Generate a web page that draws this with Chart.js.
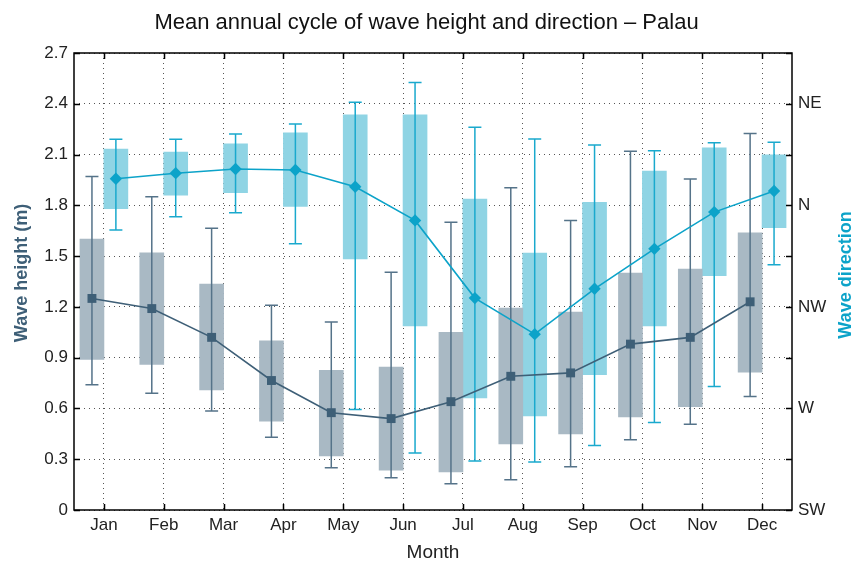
<!DOCTYPE html>
<html><head><meta charset="utf-8">
<script src="https://cdn.jsdelivr.net/npm/chart.js@4.4.1/dist/chart.umd.min.js"></script>
<style>html,body{margin:0;padding:0;background:#fff}</style>
</head><body>
<canvas id="c" width="853" height="565"></canvas>
<script>
// ---- data ----
const MONTHS = ['Jan','Feb','Mar','Apr','May','Jun','Jul','Aug','Sep','Oct','Nov','Dec'];

// Wave height (m)
const HEIGHT_WHISKER_LOW  = [0.74, 0.69, 0.585, 0.43, 0.25, 0.19, 0.155, 0.178, 0.255, 0.415, 0.507, 0.67];
const HEIGHT_BOX_LOW      = [0.89, 0.86, 0.71, 0.525, 0.32, 0.235, 0.225, 0.39, 0.45, 0.55, 0.61, 0.815];
const HEIGHT_MEAN         = [1.25, 1.19, 1.02, 0.765, 0.575, 0.54, 0.64, 0.79, 0.81, 0.98, 1.02, 1.23];
const HEIGHT_BOX_HIGH     = [1.60, 1.52, 1.335, 1.00, 0.825, 0.845, 1.05, 1.193, 1.17, 1.40, 1.423, 1.638];
const HEIGHT_WHISKER_HIGH = [1.97, 1.85, 1.665, 1.21, 1.11, 1.405, 1.70, 1.904, 1.71, 2.12, 1.955, 2.224];

// Wave direction (on the right-hand compass scale)
const DIR_WHISKER_LOW  = [1.655, 1.733, 1.756, 1.573, 0.594, 0.337, 0.29, 0.284, 0.381, 0.517, 0.73, 1.449];
const DIR_BOX_LOW      = [1.78, 1.86, 1.875, 1.794, 1.483, 1.088, 0.662, 0.556, 0.80, 1.088, 1.384, 1.668];
const DIR_MEAN         = [1.957, 1.99, 2.015, 2.009, 1.91, 1.711, 1.252, 1.039, 1.307, 1.543, 1.76, 1.885];
const DIR_BOX_HIGH     = [2.133, 2.115, 2.163, 2.228, 2.334, 2.334, 1.837, 1.518, 1.818, 2.003, 2.139, 2.098];
const DIR_WHISKER_HIGH = [2.19, 2.19, 2.222, 2.281, 2.409, 2.525, 2.261, 2.192, 2.157, 2.123, 2.17, 2.173];

// Tick labels
const HEIGHT_TICK_MIN = 0, HEIGHT_TICK_MAX = 2.7, HEIGHT_TICK_STEP = 0.3;
const DIR_TICK_VALUES = [0, 0.6, 1.2, 1.8, 2.4];
const DIR_TICK_LABELS = ['SW', 'W', 'NW', 'N', 'NE'];

// ---- styles ----
const FONT = "'Liberation Sans', Arial, Helvetica, sans-serif";
const GREY_BOX = '#a9b9c4', GREY_LINE = '#3e5f77', GREY_WHISKER = '#557389';
const CYAN_BOX = '#8fd4e4', CYAN_LINE = '#0ca3c9', CYAN_WHISKER = '#1aa9cd';
const BOX_PX = 24;                   // width of each box in pixels
const SHIFT = 0.2;                   // centre of each box relative to the month (in months)
const CAP = 6.5;

const whiskerPlugin = {
  id: 'whiskers',
  afterDatasetDraw(chart, args) {
    const ds = chart.data.datasets[args.index];
    if (!ds.whiskerLow) return;
    const ys = chart.scales[ds.yAxisID];
    const ctx = chart.ctx;
    ctx.save();
    ctx.strokeStyle = ds.whiskerColor;
    ctx.lineWidth = 1.5;
    args.meta.data.forEach((bar, i) => {
      const x = bar.x;
      const yl = ys.getPixelForValue(ds.whiskerLow[i]);
      const yh = ys.getPixelForValue(ds.whiskerHigh[i]);
      ctx.beginPath();
      ctx.moveTo(x, yl); ctx.lineTo(x, yh);
      ctx.moveTo(x - CAP, yh); ctx.lineTo(x + CAP, yh);
      ctx.moveTo(x - CAP, yl); ctx.lineTo(x + CAP, yl);
      ctx.stroke();
    });
    ctx.restore();
  }
};

const framePlugin = {
  id: 'frame',
  afterDraw(chart) {
    const ctx = chart.ctx;
    const {left, right, top, bottom} = chart.chartArea;
    const TL = 6;
    ctx.save();
    ctx.strokeStyle = '#000';
    ctx.lineWidth = 1.5;
    ctx.strokeRect(left, top, right - left, bottom - top);
    ctx.beginPath();
    const sx = chart.scales.x;
    sx.ticks.forEach((t, i) => {
      const px = Math.round(sx.getPixelForTick(i)) + 0.5;
      ctx.moveTo(px, bottom); ctx.lineTo(px, bottom - TL);
      ctx.moveTo(px, top); ctx.lineTo(px, top + TL);
    });
    const sy = chart.scales.y;
    sy.ticks.forEach((t, i) => {
      const py = Math.round(sy.getPixelForTick(i)) + 0.5;
      ctx.moveTo(left, py); ctx.lineTo(left + TL, py);
    });
    const sy2 = chart.scales.y2;
    sy2.ticks.forEach((t, i) => {
      const py = Math.round(sy2.getPixelForTick(i)) + 0.5;
      ctx.moveTo(right, py); ctx.lineTo(right - TL, py);
    });
    ctx.stroke();

    // vertical axis titles (both read bottom-to-top)
    ctx.font = "bold 18px " + FONT;
    ctx.textAlign = 'center';
    ctx.textBaseline = 'middle';
    ctx.fillStyle = GREY_LINE;
    ctx.translate(22, 273);
    ctx.rotate(-Math.PI / 2);
    ctx.fillText('Wave height (m)', 0, 0);
    ctx.setTransform(1, 0, 0, 1, 0, 0);
    ctx.fillStyle = CYAN_LINE;
    ctx.translate(846, 275);
    ctx.rotate(-Math.PI / 2);
    ctx.fillText('Wave direction', 0, 0);
    ctx.restore();
  }
};

const gridStyle = { color: '#555', lineWidth: 1, drawTicks: false };

new Chart(document.getElementById('c'), {
  data: {
    labels: MONTHS,
    datasets: [
      {
        type: 'bar', label: 'Wave height', xAxisID: 'xl', yAxisID: 'y', order: 3,
        data: HEIGHT_BOX_LOW.map((v, i) => ({x: i - SHIFT, y: [v, HEIGHT_BOX_HIGH[i]]})),
        backgroundColor: GREY_BOX, borderWidth: 0, grouped: false,
        whiskerLow: HEIGHT_WHISKER_LOW, whiskerHigh: HEIGHT_WHISKER_HIGH, whiskerColor: GREY_WHISKER,
        barThickness: BOX_PX
      },
      {
        type: 'bar', label: 'Wave direction', xAxisID: 'xl', yAxisID: 'y2', order: 3,
        data: DIR_BOX_LOW.map((v, i) => ({x: i + SHIFT, y: [v, DIR_BOX_HIGH[i]]})),
        backgroundColor: CYAN_BOX, borderWidth: 0, grouped: false,
        whiskerLow: DIR_WHISKER_LOW, whiskerHigh: DIR_WHISKER_HIGH, whiskerColor: CYAN_WHISKER,
        barThickness: BOX_PX
      },
      {
        type: 'line', label: 'Wave height mean', xAxisID: 'xl', yAxisID: 'y', order: 1,
        data: HEIGHT_MEAN.map((v, i) => ({x: i - SHIFT, y: v})),
        borderColor: GREY_LINE, backgroundColor: GREY_LINE, borderWidth: 1.6,
        pointStyle: 'rect', pointRadius: 6.3, pointBorderWidth: 0, tension: 0
      },
      {
        type: 'line', label: 'Wave direction mean', xAxisID: 'xl', yAxisID: 'y2', order: 1,
        data: DIR_MEAN.map((v, i) => ({x: i + SHIFT, y: v})),
        borderColor: CYAN_LINE, backgroundColor: CYAN_LINE, borderWidth: 1.6,
        pointStyle: 'rectRot', pointRadius: 6.2, pointBorderWidth: 0, tension: 0
      }
    ]
  },
  options: {
    responsive: false,
    animation: false,
    layout: { padding: 0 },
    plugins: {
      legend: { display: false },
      tooltip: { enabled: false },
      title: {
        display: true,
        text: 'Mean annual cycle of wave height and direction – Palau',
        color: '#111',
        font: { family: FONT, size: 22, weight: 'normal', lineHeight: 1.2 },
        padding: { top: 10, bottom: 16.6 }
      }
    },
    scales: {
      x: {
        type: 'category', position: 'bottom', offset: true,
        grid: Object.assign({ offset: false }, gridStyle),
        border: { display: false, dash: [1, 4] },
        ticks: { color: '#222', font: { family: FONT, size: 17 }, padding: 5, maxRotation: 0 },
        title: { display: true, text: 'Month', color: '#222', font: { family: FONT, size: 19 }, padding: { top: 0, bottom: 1 } },
        afterFit: s => { s.height = 55; }
      },
      xl: {
        type: 'linear', display: false, min: -0.5, max: 11.5, offset: false
      },
      y: {
        type: 'linear', position: 'left', min: HEIGHT_TICK_MIN, max: HEIGHT_TICK_MAX,
        grid: gridStyle,
        border: { display: false, dash: [1, 4] },
        ticks: {
          stepSize: HEIGHT_TICK_STEP, color: '#222', font: { family: FONT, size: 17 }, padding: 6,
          callback: v => (Math.abs(v) < 1e-9 ? '0' : v.toFixed(1))
        },
        afterFit: s => { s.width = 74; }
      },
      y2: {
        type: 'linear', position: 'right', min: HEIGHT_TICK_MIN, max: HEIGHT_TICK_MAX,
        grid: { display: false, drawTicks: false },
        border: { display: false },
        ticks: {
          stepSize: HEIGHT_TICK_STEP, color: '#222', font: { family: FONT, size: 17 }, padding: 6,
          callback: v => {
            const k = DIR_TICK_VALUES.findIndex(d => Math.abs(d - v) < 1e-6);
            return k >= 0 ? DIR_TICK_LABELS[k] : '';
          }
        },
        afterFit: s => { s.width = 61; }
      }
    }
  },
  plugins: [whiskerPlugin, framePlugin]
});
</script>
</body></html>
